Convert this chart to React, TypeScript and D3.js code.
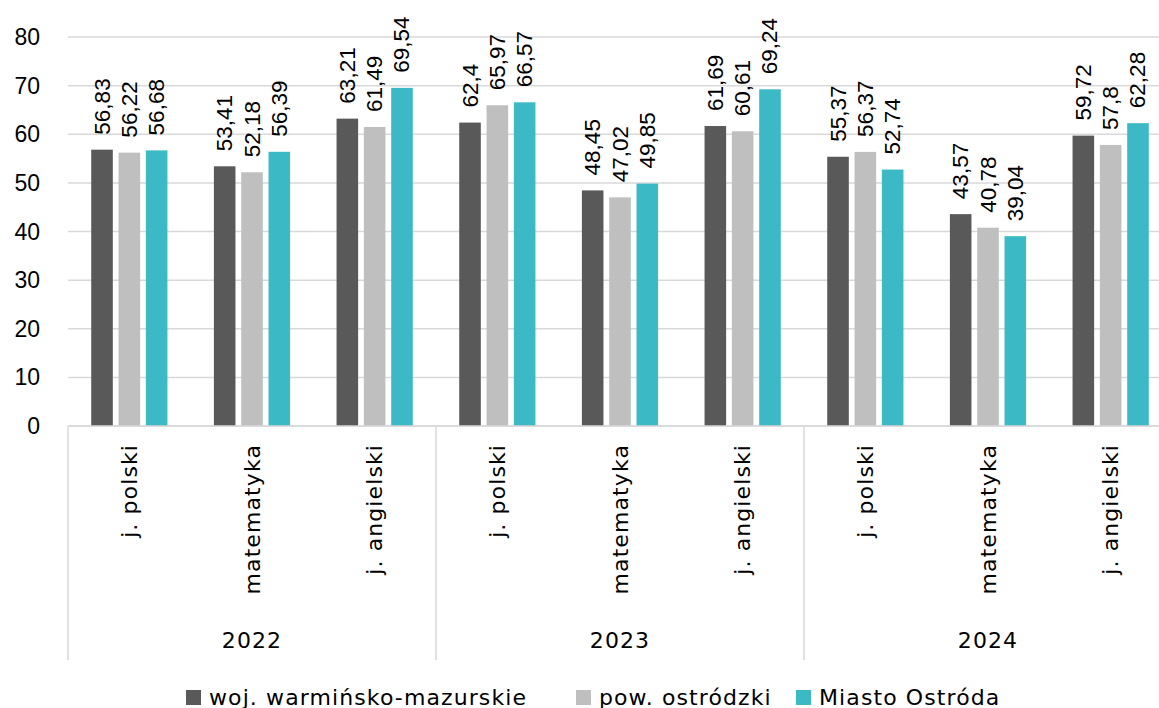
import React from "react";
import * as d3 from "d3";

const years = ["2022", "2023", "2024"];
const subjects = ["j. polski", "matematyka", "j. angielski"];
const seriesNames = ["woj. warmińsko-mazurskie", "pow. ostródzki", "Miasto Ostróda"];
const seriesColors = ["#595959", "#bfbfbf", "#3bb9c4"];
// values per group (year x subject), per series
const woj = [56.83, 53.41, 63.21, 62.4, 48.45, 61.69, 55.37, 43.57, 59.72];
const pow = [56.22, 52.18, 61.49, 65.97, 47.02, 60.61, 56.37, 40.78, 57.8];
const miasto = [56.68, 56.39, 69.54, 66.57, 49.85, 69.24, 52.74, 39.04, 62.28];
const yTicks = [0, 10, 20, 30, 40, 50, 60, 70, 80];

const W = 1159;
const H = 708;
const left = 68;
const right = 1172;
const y0 = 426;
const yTop = 37;

export default function App() {
  const groups = years.flatMap((yr) => subjects.map((s) => `${yr}|${s}`));
  const x = d3.scaleBand<string>().domain(groups).range([left, right]).paddingInner(0).paddingOuter(0);
  const xs = d3
    .scaleBand<string>()
    .domain(seriesNames)
    .range([0, x.bandwidth()])
    .paddingInner(0.21)
    .paddingOuter(0.85);
  const y = d3.scaleLinear().domain([0, 80]).range([y0, yTop]);
  const data = [woj, pow, miasto];
  const fmt = (v: number) => String(v).replace(".", ",");
  const numFont = "'Liberation Sans', Arial, sans-serif";
  const catFont = "'DejaVu Sans', Inter, sans-serif";
  const catSize = 22;
  const catSpacing = 1.1;
  const gridColor = "#d9d9d9";

  const yearX = years.map((yr) => {
    const a = x(`${yr}|${subjects[0]}`)!;
    const b = x(`${yr}|${subjects[2]}`)! + x.bandwidth();
    return { yr, a, b };
  });

  const legendItems = [
    { x: 186, name: seriesNames[0], color: seriesColors[0] },
    { x: 576, name: seriesNames[1], color: seriesColors[1] },
    { x: 796, name: seriesNames[2], color: seriesColors[2] },
  ];

  return (
    <svg
      width={W}
      height={H}
      style={{ position: "fixed", left: 0, top: 0, background: "#fff" }}
    >
      <rect x={0} y={0} width={W} height={H} fill="#fff" />
      {/* gridlines */}
      {yTicks.map((t) => (
        <line
          key={t}
          x1={left}
          x2={right}
          y1={y(t)}
          y2={y(t)}
          stroke={gridColor}
          strokeWidth={1.5}
        />
      ))}
      {/* y tick labels */}
      {yTicks.map((t) => (
        <text
          key={"l" + t}
          x={40}
          y={y(t)}
          textAnchor="end"
          dominantBaseline="central"
          fontFamily={numFont}
          fontSize={23}
          fill="#000"
        >
          {t}
        </text>
      ))}
      {/* bars */}
      {groups.map((g, gi) =>
        seriesNames.map((s, si) => {
          const v = data[si][gi];
          const bx = x(g)! + xs(s)!;
          return (
            <rect
              key={g + s}
              x={bx}
              y={y(v)}
              width={xs.bandwidth()}
              height={y0 - y(v)}
              fill={seriesColors[si]}
            />
          );
        })
      )}
      {/* data labels */}
      {groups.map((g, gi) =>
        seriesNames.map((s, si) => {
          const v = data[si][gi];
          const cx = x(g)! + xs(s)! + xs.bandwidth() / 2;
          const ty = y(v) - 15;
          return (
            <text
              key={"d" + g + s}
              transform={`translate(${cx},${ty}) rotate(-90)`}
              textAnchor="start"
              dominantBaseline="central"
              fontFamily={numFont}
              fontSize={22.5}
              fill="#000"
            >
              {fmt(v)}
            </text>
          );
        })
      )}
      {/* axis line */}
      <line x1={left} x2={right} y1={y0} y2={y0} stroke={gridColor} strokeWidth={1.5} />
      {/* year separators */}
      {[...yearX.map((d) => d.a), yearX[2].b].map((sx, i) => (
        <line key={"s" + i} x1={sx} x2={sx} y1={y0} y2={660} stroke={gridColor} strokeWidth={1.5} />
      ))}
      {/* category labels */}
      {groups.map((g) => {
        const cx = x(g)! + x.bandwidth() / 2;
        const name = g.split("|")[1];
        return (
          <text
            key={"c" + g}
            transform={`translate(${cx},${444}) rotate(-90)`}
            textAnchor="end"
            dominantBaseline="central"
            fontFamily={catFont}
            fontSize={catSize}
            letterSpacing={catSpacing}
            fill="#000"
          >
            {name}
          </text>
        );
      })}
      {/* year labels */}
      {yearX.map((d) => (
        <text
          key={"y" + d.yr}
          x={(d.a + d.b) / 2}
          y={640}
          textAnchor="middle"
          dominantBaseline="central"
          fontFamily={catFont}
          fontSize={catSize}
          letterSpacing={catSpacing}
          fill="#000"
        >
          {d.yr}
        </text>
      ))}
      {/* legend */}
      {legendItems.map((it) => (
        <g key={it.name}>
          <rect x={it.x} y={690} width={15} height={15} fill={it.color} />
          <text
            x={it.x + 23}
            y={697}
            dominantBaseline="central"
            fontFamily={catFont}
            fontSize={catSize}
            letterSpacing={catSpacing}
            fill="#000"
          >
            {it.name}
          </text>
        </g>
      ))}
    </svg>
  );
}
